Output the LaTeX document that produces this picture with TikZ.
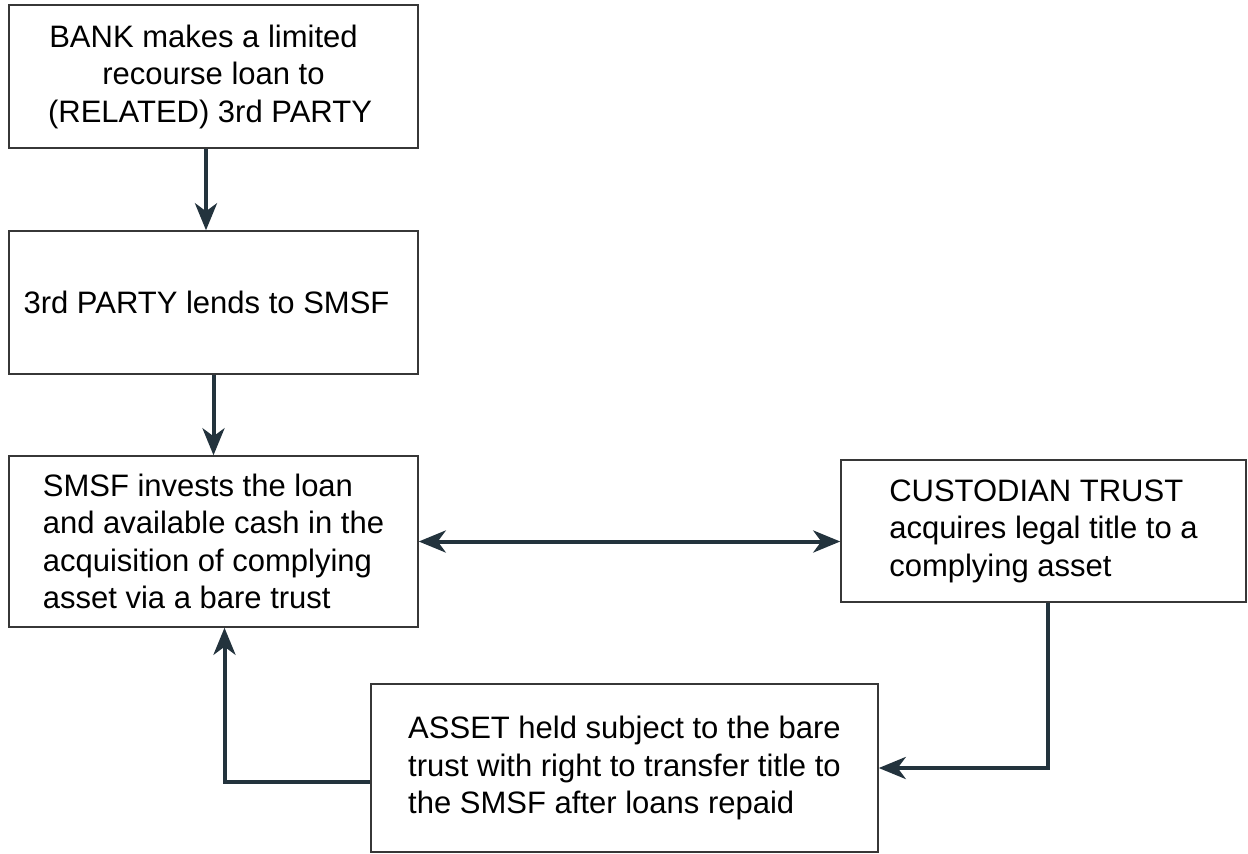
\documentclass[tikz,border=0pt]{standalone}
\usepackage{fontspec}
\setmainfont{Liberation Sans}
\usetikzlibrary{arrows.meta,calc}
\definecolor{arrowcol}{RGB}{35,51,61}
\definecolor{boxcol}{RGB}{55,55,55}
\begin{document}
\begin{tikzpicture}[x=1pt,y=-1pt,
  >={Stealth[length=27pt,width=22pt,inset=8pt]},
  box/.style={draw=boxcol, line width=1.5pt, fill=white, inner sep=0pt,
    font=\fontsize{31pt}{37.5pt}\selectfont, text=black},
  flow/.style={draw=arrowcol, line width=4pt}]
\useasboundingbox (0,0) rectangle (1248,854);
\node[box, align=center, minimum width=409pt, minimum height=143pt] (bank) at (213.5,76.5)
  {BANK makes a limited\hspace*{20pt}\\recourse loan to\hspace*{22pt}\\(RELATED) 3rd PARTY\hspace*{7pt}};
\node[box, align=left, minimum width=409pt, minimum height=143pt] (lend) at (213.5,302.5)
  {3rd PARTY lends to SMSF\hspace*{14pt}};
\node[box, align=left, minimum width=409pt, minimum height=171pt] (smsf) at (213.5,541.5)
  {SMSF invests the loan\\and available cash in the\\acquisition of complying\\asset via a bare trust};
\node[box, align=left, minimum width=405pt, minimum height=142pt] (cust) at (1043.5,531)
  {CUSTODIAN TRUST\\acquires legal title to a\\complying asset};
\node[box, align=left, minimum width=507pt, minimum height=168pt] (asset) at (624.5,768)
  {ASSET held subject to the bare\\trust with right to transfer title to\\the SMSF after loans repaid};
\draw[flow,->] ([xshift=-7.5pt]bank.south) -- ([xshift=-7.5pt]lend.north);
\draw[flow,->] (lend.south) -- (smsf.north);
\draw[flow,<->] (smsf.east) -- (smsf.east -| cust.west);
\draw[flow,->] ([xshift=4.5pt]cust.south) |- (asset.east);
\draw[flow,->] ([yshift=-14pt]asset.west) -| ([xshift=11pt]smsf.south);
\end{tikzpicture}
\end{document}
